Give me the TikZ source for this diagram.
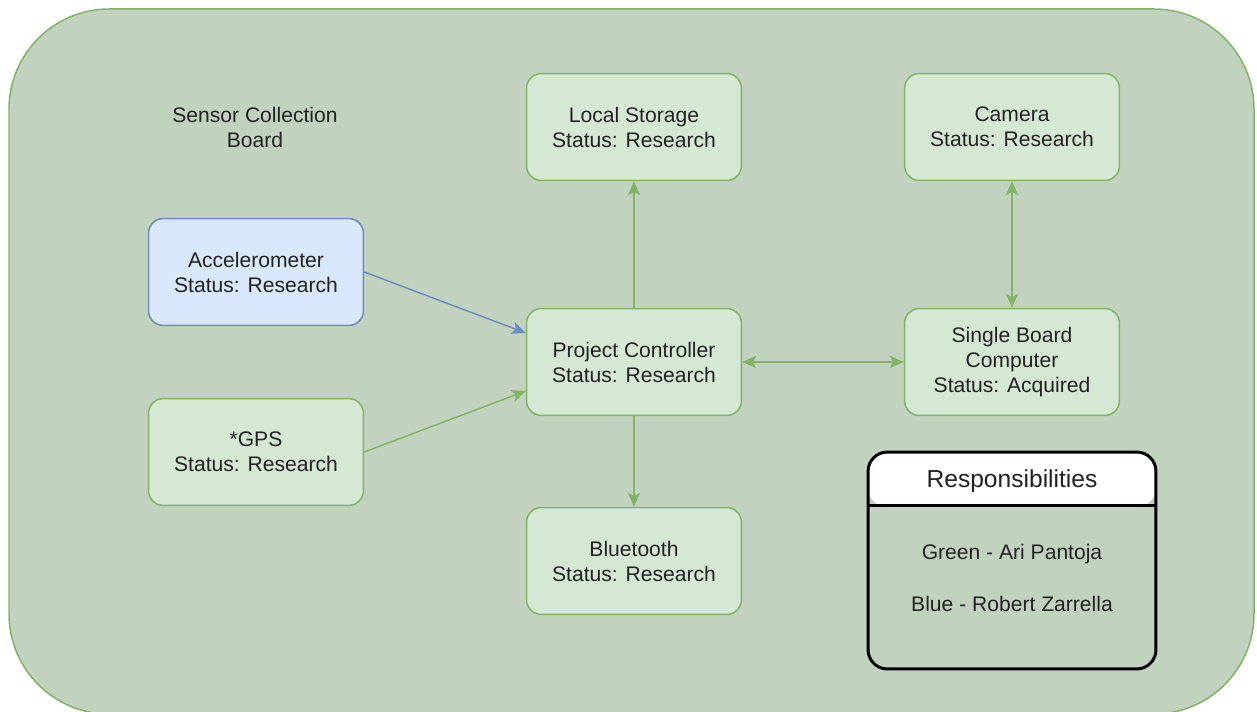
\documentclass[tikz,border=0pt]{standalone}
\usepackage{fontspec}
\setmainfont{Liberation Sans}
\usetikzlibrary{arrows.meta}
\definecolor{boardfill}{HTML}{C1D2BF}
\definecolor{greenfill}{HTML}{D5E8D4}
\definecolor{greenline}{HTML}{82B366}
\definecolor{bluefill}{HTML}{DAE8FC}
\definecolor{blueline}{HTML}{6C8EBF}
\definecolor{textcol}{HTML}{222222}
\begin{document}
\begin{tikzpicture}[x=0.02cm,y=-0.02cm,
  >={Stealth[length=8pt,width=7pt,inset=2pt]},
  every node/.style={text=textcol,font=\fontsize{12}{14.2}\selectfont,align=center},
  part/.style={draw=greenline,fill=greenfill,line width=0.85pt,rounded corners=8.5pt,
    minimum width=4.3cm,minimum height=2.14cm},
  bluepart/.style={part,draw=blueline,fill=bluefill},
  link/.style={draw=greenline,line width=0.85pt,->},
  twoway/.style={link,<->},
  legend/.style={draw=black,line width=1.7pt,rounded corners=11pt,
    minimum width=5.76cm,minimum height=4.34cm,
    path picture={\fill[white] (path picture bounding box.north west)
      rectangle ([yshift=-1.1cm]path picture bounding box.north east);}}]
  \useasboundingbox (0,0) rectangle (1257,712);
  % Board outline
  \draw[draw=greenline,fill=boardfill,line width=0.85pt,rounded corners=57pt]
    (9,9) rectangle (1254,714);
  \node (title) at (255,127) {Sensor Collection\\Board};
  % Parts on the board
  \node[bluepart] (acc) at (256,272) {Accelerometer\\Status: Research};
  \foreach \name/\x/\y/\txt in {storage/634/127/Local Storage,
      cam/1012/127/Camera, pc/634/362/Project Controller,
      gps/256/452/*GPS, bt/634/561/Bluetooth} {
    \node[part] (\name) at (\x,\y) {\txt\\Status: Research};
  }
  \node[part] (sbc) at (1012,362) {Single Board\\Computer\\Status: Acquired};
  % Connections
  \draw[link,draw=blueline] (acc.east) -- (pc.165);
  \draw[link] (gps.east) -- (pc.195);
  \draw[link] (pc) -- (storage);
  \draw[link] (pc) -- (bt);
  \draw[twoway] (pc) -- (sbc);
  \draw[twoway] (cam) -- (sbc);
  % Responsibilities key
  \node[legend] (resp) at (1012,560.5) {};
  \draw[line width=1.7pt] ([yshift=-1.1cm]resp.north west) -- ([yshift=-1.1cm]resp.north east);
  \node[font=\fontsize{14}{16}\selectfont] (resphead) at (1012,481) {Responsibilities};
  \node[font=\fontsize{12}{29.6}\selectfont] (respbody) at (1012,578)
    {Green - Ari Pantoja\\Blue - Robert Zarrella};
\end{tikzpicture}
\end{document}
